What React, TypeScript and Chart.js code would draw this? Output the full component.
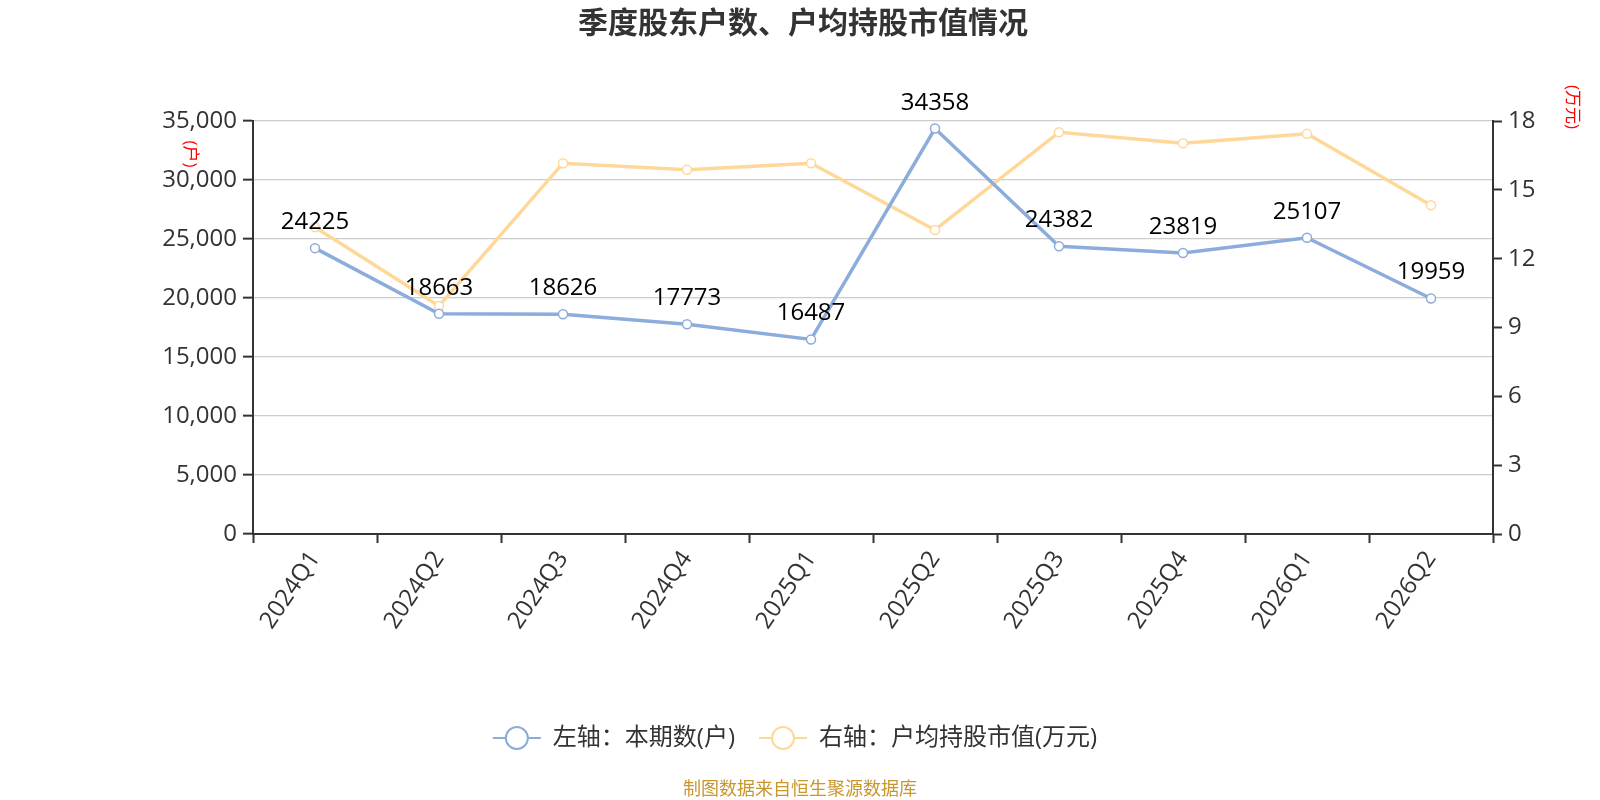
import React, { useEffect, useRef } from "react";
import { Chart, registerables } from "chart.js";

Chart.register(...registerables);

const categories = ["2024Q1", "2024Q2", "2024Q3", "2024Q4", "2025Q1", "2025Q2", "2025Q3", "2025Q4", "2026Q1", "2026Q2"];
const holders = [24225, 18663, 18626, 17773, 16487, 34358, 24382, 23819, 25107, 19959];
const avgValue = [13.37, 9.94, 16.16, 15.87, 16.16, 13.25, 17.51, 17.03, 17.44, 14.33];
const seriesNames = ["左轴：本期数(户)", "右轴：户均持股市值(万元)"];
const titleText = "季度股东户数、户均持股市值情况";
const sourceText = "制图数据来自恒生聚源数据库";
const leftUnit = "(户)";
const rightUnit = "(万元)";

const BLUE = "#8cacdb";
const YELLOW = "#ffd899";
const FONT = "'Open Sans', 'Noto Sans CJK SC', sans-serif";

const decorPlugin = {
  id: "decor",
  afterDraw(chart: any) {
    const ctx = chart.ctx;
    const area = chart.chartArea;
    const W = chart.width;
    ctx.save();
    // title
    ctx.fillStyle = "#333";
    ctx.font = `bold 30px ${FONT}`;
    ctx.textAlign = "center";
    ctx.textBaseline = "middle";
    ctx.fillText(titleText, W / 2 + 3, 24);

    // data labels for series 0
    const meta = chart.getDatasetMeta(0);
    ctx.font = `24px ${FONT}`;
    ctx.fillStyle = "#000";
    ctx.textAlign = "center";
    ctx.textBaseline = "alphabetic";
    meta.data.forEach((pt: any, i: number) => {
      ctx.fillText(String(holders[i]), pt.x, pt.y - 19);
    });

    // axis unit titles (rotated)
    ctx.fillStyle = "#ff0000";
    ctx.font = `17px ${FONT}`;
    ctx.textAlign = "center";
    ctx.textBaseline = "middle";
    ctx.save();
    ctx.translate(area.left - 63, area.top + 33);
    ctx.rotate(Math.PI / 2);
    ctx.fillText(leftUnit, 0, 0);
    ctx.restore();
    ctx.save();
    ctx.translate(area.right + 79, area.top - 14);
    ctx.rotate(Math.PI / 2);
    ctx.fillText(rightUnit, 0, 0);
    ctx.restore();

    // legend
    const ly = 738;
    ctx.font = `24px ${FONT}`;
    const colors = [BLUE, YELLOW];
    const w0 = ctx.measureText(seriesNames[0]).width;
    const w1 = ctx.measureText(seriesNames[1]).width;
    const markerW = 48;
    const gapM = 12;
    const gapItems = 24;
    const total = markerW + gapM + w0 + gapItems + markerW + gapM + w1;
    let x = 795 - total / 2;
    [w0, w1].forEach((tw, i) => {
      ctx.strokeStyle = colors[i];
      ctx.lineWidth = 2;
      ctx.beginPath();
      ctx.moveTo(x, ly);
      ctx.lineTo(x + markerW, ly);
      ctx.stroke();
      ctx.beginPath();
      ctx.arc(x + markerW / 2, ly, 11, 0, Math.PI * 2);
      ctx.fillStyle = "#fff";
      ctx.fill();
      ctx.stroke();
      ctx.fillStyle = "#333";
      ctx.textAlign = "left";
      ctx.textBaseline = "middle";
      ctx.fillText(seriesNames[i], x + markerW + gapM, ly);
      x += markerW + gapM + tw + gapItems;
    });

    // source
    ctx.fillStyle = "#c8962d";
    ctx.font = `18px ${FONT}`;
    ctx.textAlign = "center";
    ctx.textBaseline = "middle";
    ctx.fillText(sourceText, W / 2, 790);
    ctx.restore();
  },
};

export default function App() {
  const ref = useRef<HTMLCanvasElement | null>(null);
  useEffect(() => {
    if (!ref.current) return;
    const chart = new Chart(ref.current, {
      type: "line",
      data: {
        labels: categories,
        datasets: [
          {
            label: seriesNames[0],
            data: holders,
            yAxisID: "y",
            borderColor: BLUE,
            backgroundColor: "#fff",
            borderWidth: 3.5,
            pointRadius: 4.5,
            pointBorderWidth: 1.5,
            pointBackgroundColor: "#fff",
            pointBorderColor: BLUE,
            tension: 0,
          },
          {
            label: seriesNames[1],
            data: avgValue,
            yAxisID: "y1",
            borderColor: YELLOW,
            backgroundColor: "#fff",
            borderWidth: 3.5,
            pointRadius: 4.5,
            pointBorderWidth: 1.5,
            pointBackgroundColor: "#fff",
            pointBorderColor: YELLOW,
            tension: 0,
          },
        ],
      },
      options: {
        responsive: true,
        maintainAspectRatio: false,
        animation: false,
        layout: { padding: { top: 121, left: 0, right: 0, bottom: 0 } },
        plugins: {
          legend: { display: false },
          title: { display: false },
          tooltip: { enabled: false },
        },
        scales: {
          x: {
            type: "category",
            offset: true,
            grid: {
              offset: true,
              drawOnChartArea: false,
              drawTicks: true,
              tickLength: 9,
              tickColor: "#333",
              tickWidth: 2,
            },
            border: { color: "#333", width: 2 },
            ticks: {
              color: "#333",
              font: { size: 24, family: FONT },
              minRotation: 56,
              maxRotation: 56,
              padding: 3,
              autoSkip: false,
            },
            afterFit(scale: any) {
              scale.height = 800 - 534;
            },
          },
          y: {
            type: "linear",
            position: "left",
            min: 0,
            max: 35000,
            grid: {
              color: "#cccccc",
              lineWidth: 1.3,
              tickLength: 10,
              tickColor: "#333",
              tickWidth: 2,
            },
            border: { color: "#333", width: 2 },
            ticks: {
              stepSize: 5000,
              color: "#333",
              font: { size: 24, family: FONT },
              padding: 6,
              callback: (v: any) => Number(v).toLocaleString("en-US"),
            },
            afterFit(scale: any) {
              scale.width = 253;
            },
          },
          y1: {
            type: "linear",
            position: "right",
            min: 0,
            max: 18,
            grid: {
              drawOnChartArea: false,
              tickLength: 9,
              tickColor: "#333",
              tickWidth: 2,
            },
            border: { color: "#333", width: 2 },
            ticks: {
              stepSize: 3,
              color: "#333",
              font: { size: 24, family: FONT },
              padding: 6,
            },
            afterFit(scale: any) {
              scale.width = 1600 - 1493;
            },
          },
        },
      },
      plugins: [decorPlugin],
    });
    return () => chart.destroy();
  }, []);
  return (
    <div style={{ position: "absolute", left: 0, top: 0, width: 1600, height: 800, background: "#fff" }}>
      <canvas ref={ref} />
    </div>
  );
}
